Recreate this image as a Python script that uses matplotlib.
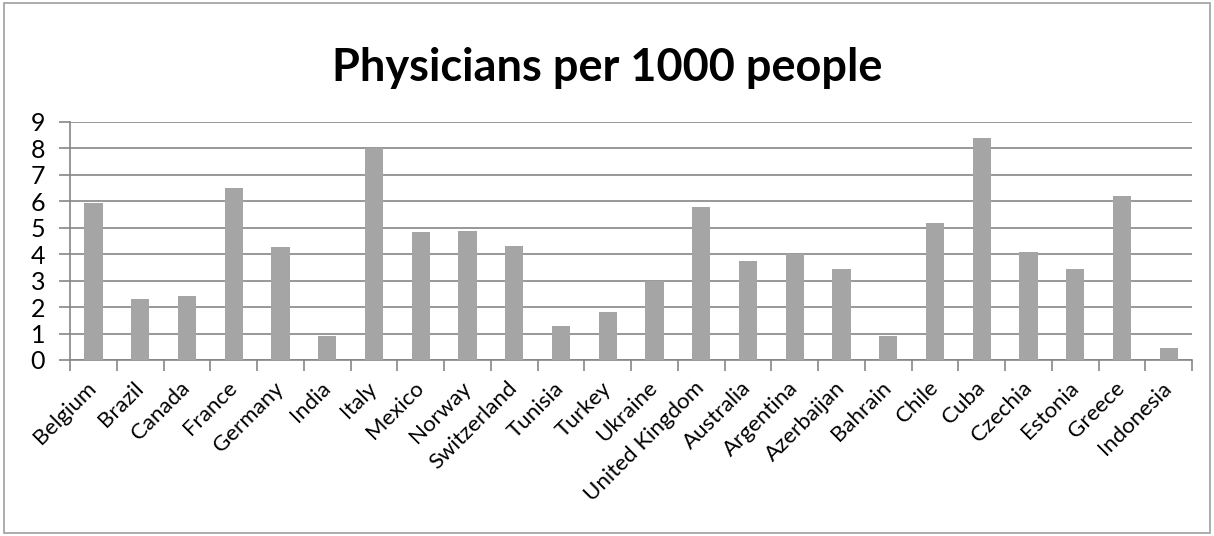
import numpy as np
import matplotlib.pyplot as plt
from matplotlib.patches import Rectangle

countries = ['Belgium', 'Brazil', 'Canada', 'France', 'Germany', 'India', 'Italy',
             'Mexico', 'Norway', 'Switzerland', 'Tunisia', 'Turkey', 'Ukraine',
             'United Kingdom', 'Australia', 'Argentina', 'Azerbaijan', 'Bahrain',
             'Chile', 'Cuba', 'Czechia', 'Estonia', 'Greece', 'Indonesia']
physicians = [5.95, 2.29, 2.43, 6.52, 4.29, 0.91, 8.02, 4.84, 4.88, 4.32, 1.28, 1.80,
              2.98, 5.80, 3.74, 3.99, 3.44, 0.91, 5.17, 8.41, 4.10, 3.44, 6.21, 0.44]
yticks = list(range(0, 10))

plt.rcParams['font.family'] = ['Lato', 'DejaVu Sans']

fig = plt.figure(figsize=(12.14, 5.36), dpi=100)
ax = fig.add_axes([0.0577, 0.3284, 0.9243, 0.444])

x = np.arange(len(countries))
ax.bar(x, physicians, width=0.39, color='#A5A5A5', zorder=3)

ax.set_xlim(-0.5, len(countries) - 0.5)
ax.set_ylim(0, 9)
ax.set_yticks(yticks)
ax.set_yticklabels([str(t) for t in yticks], fontsize=18)
ax.yaxis.grid(True, color='#868686', lw=1.2, zorder=0)

ax.set_xticks(x)
ax.set_xticklabels(countries, rotation=45, ha='right', va='center',
                   rotation_mode='anchor', fontsize=16)
ax.set_xticks(np.arange(-0.5, len(countries)), minor=True)
ax.tick_params(axis='x', which='major', length=0, pad=18)
ax.tick_params(axis='x', which='minor', length=8, color='#868686', width=1.2)
ax.tick_params(axis='y', length=8, color='#868686', width=1.2, pad=10)

for s in ['top', 'right']:
    ax.spines[s].set_visible(False)
for s in ['left', 'bottom']:
    ax.spines[s].set_color('#868686')
    ax.spines[s].set_linewidth(1.2)

fig.text(0.5, 0.873, 'Physicians per 1000 people', ha='center', va='center',
         fontsize=32.5, fontweight='bold')

fig.patches.append(Rectangle((0.003, 0.005), 0.994, 0.99, transform=fig.transFigure,
                             fill=False, edgecolor='#A0A0A0', lw=1.2))

fig.savefig('out.png', dpi=100)
